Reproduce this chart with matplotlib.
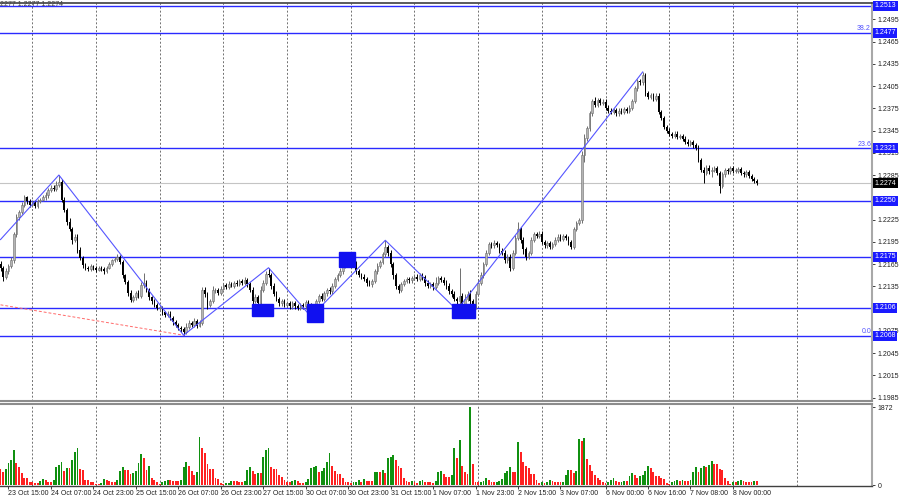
import matplotlib.pyplot as plt
import numpy as np
from matplotlib.patches import Rectangle
from matplotlib.transforms import blended_transform_factory

plt.rcParams["font.family"] = ["Liberation Sans", "DejaVu Sans"]

# H1 candles, 23 Oct 12:00 .. 8 Nov 09:00 (bar index = position on the chart)
first_open = 1.2165
closes = [
    1.2160, 1.2148, 1.2155, 1.2162, 1.2170, 1.2205, 1.2228, 1.2235, 1.2245, 1.2255, 1.2250, 1.2245,
    1.2248, 1.2243, 1.2250, 1.2252, 1.2255, 1.2258, 1.2265, 1.2268, 1.2266, 1.2272, 1.2276, 1.2252,
    1.2238, 1.2222, 1.2212, 1.2198, 1.2202, 1.2184, 1.2173, 1.2164, 1.2160, 1.2158, 1.2162, 1.2160,
    1.2157, 1.2160, 1.2158, 1.2155, 1.2160, 1.2165, 1.2170, 1.2172, 1.2174, 1.2168, 1.2150, 1.2141,
    1.2126, 1.2117, 1.2120, 1.2126, 1.2122, 1.2137, 1.2140, 1.2130, 1.2120, 1.2115, 1.2110, 1.2106,
    1.2106, 1.2100, 1.2096, 1.2098, 1.2092, 1.2087, 1.2083, 1.2079, 1.2077, 1.2074, 1.2080, 1.2085,
    1.2083, 1.2088, 1.2082, 1.2086, 1.2130, 1.2124, 1.2110, 1.2115, 1.2130, 1.2130, 1.2126, 1.2132,
    1.2137, 1.2134, 1.2138, 1.2136, 1.2140, 1.2138, 1.2142, 1.2140, 1.2143, 1.2138, 1.2130, 1.2115,
    1.2120, 1.2112, 1.2130, 1.2140, 1.2152, 1.2150, 1.2135, 1.2125, 1.2118, 1.2112, 1.2115, 1.2110,
    1.2112, 1.2108, 1.2112, 1.2108, 1.2106, 1.2110, 1.2108, 1.2114, 1.2110, 1.2100, 1.2098, 1.2115,
    1.2122, 1.2118, 1.2126, 1.2130, 1.2128, 1.2136, 1.2145, 1.2150, 1.2155, 1.2162, 1.2170, 1.2168,
    1.2174, 1.2166, 1.2155, 1.2150, 1.2148, 1.2145, 1.2140, 1.2138, 1.2142, 1.2155, 1.2162, 1.2168,
    1.2178, 1.2188, 1.2180, 1.2165, 1.2150, 1.2135, 1.2130, 1.2138, 1.2142, 1.2145, 1.2143, 1.2146,
    1.2148, 1.2145, 1.2150, 1.2147, 1.2140, 1.2136, 1.2138, 1.2134, 1.2140, 1.2146, 1.2144, 1.2140,
    1.2135, 1.2128, 1.2125, 1.2118, 1.2115, 1.2122, 1.2110, 1.2118, 1.2125, 1.2115, 1.2108, 1.2125,
    1.2140, 1.2150, 1.2165, 1.2180, 1.2192, 1.2190, 1.2193, 1.2191, 1.2183, 1.2180, 1.2170, 1.2175,
    1.2160, 1.2180, 1.2200, 1.2212, 1.2198, 1.2185, 1.2175, 1.2180, 1.2198, 1.2205, 1.2203, 1.2206,
    1.2195, 1.2190, 1.2193, 1.2188, 1.2192, 1.2198, 1.2202, 1.2199, 1.2203, 1.2200, 1.2195, 1.2188,
    1.2212, 1.2220, 1.2224, 1.2312, 1.2335, 1.2348, 1.2368, 1.2385, 1.2380, 1.2386, 1.2382, 1.2384,
    1.2376, 1.2372, 1.2370, 1.2373, 1.2368, 1.2372, 1.2370, 1.2374, 1.2372, 1.2376, 1.2385, 1.2402,
    1.2412, 1.2410, 1.2420, 1.2395, 1.2390, 1.2393, 1.2388, 1.2392, 1.2370, 1.2362, 1.2350, 1.2345,
    1.2340, 1.2338, 1.2341, 1.2336, 1.2338, 1.2334, 1.2330, 1.2327, 1.2329, 1.2325, 1.2322, 1.2305,
    1.2292, 1.2288, 1.2295, 1.2290, 1.2292, 1.2294, 1.2288, 1.2270, 1.2286, 1.2292, 1.2290, 1.2294,
    1.2291, 1.2291, 1.2293, 1.2288, 1.2286, 1.2289, 1.2284, 1.2280, 1.2277, 1.2274,
]
# wick lengths in pips above / below the body
wick_up = [
    4, 3, 5, 3, 4, 3, 5, 3, 4, 3, 2, 3,
    3, 4, 3, 2, 3, 4, 3, 4, 3, 5, 9, 3,
    4, 3, 5, 3, 4, 3, 4, 3, 2, 3, 3, 2,
    2, 3, 2, 3, 3, 3, 2, 3, 4, 3, 3, 2,
    3, 4, 3, 3, 4, 4, 13, 3, 3, 2, 3, 3,
    3, 3, 2, 3, 4, 3, 3, 2, 3, 3, 5, 4,
    3, 4, 3, 3, 4, 4, 3, 3, 5, 3, 3, 3,
    3, 3, 4, 3, 2, 3, 3, 3, 4, 3, 3, 4,
    4, 3, 5, 4, 4, 8, 3, 4, 3, 3, 3, 3,
    3, 3, 3, 3, 3, 3, 3, 3, 3, 3, 4, 3,
    3, 4, 3, 3, 4, 3, 3, 3, 4, 3, 3, 4,
    3, 4, 3, 3, 3, 3, 3, 3, 3, 3, 4, 3,
    3, 9, 3, 4, 3, 3, 3, 3, 3, 3, 3, 3,
    3, 3, 3, 3, 3, 4, 3, 3, 8, 3, 3, 3,
    3, 4, 3, 4, 3, 38, 4, 6, 3, 5, 3, 3,
    3, 4, 3, 4, 3, 3, 4, 3, 3, 3, 4, 3,
    3, 4, 4, 10, 3, 3, 3, 3, 4, 3, 3, 3,
    3, 3, 3, 3, 3, 3, 3, 3, 3, 3, 3, 3,
    3, 3, 3, 5, 5, 3, 4, 3, 5, 3, 3, 3,
    3, 3, 3, 3, 3, 3, 3, 3, 3, 3, 3, 3,
    3, 3, 4, 3, 3, 3, 3, 3, 3, 3, 3, 3,
    3, 3, 3, 3, 3, 3, 3, 3, 3, 3, 3, 3,
    3, 4, 3, 3, 4, 3, 3, 3, 3, 3, 3, 3,
    3, 3, 3, 3, 3, 3, 3, 3, 3, 2,
]
wick_dn = [
    5, 6, 3, 4, 3, 4, 3, 4, 2, 3, 4, 3,
    3, 3, 2, 3, 2, 3, 4, 3, 3, 2, 3, 4,
    3, 4, 3, 6, 3, 4, 3, 4, 3, 3, 2, 3,
    3, 2, 3, 3, 2, 2, 3, 2, 3, 3, 4, 3,
    4, 3, 3, 4, 3, 3, 4, 3, 3, 4, 3, 3,
    3, 4, 3, 3, 3, 4, 3, 3, 4, 5, 3, 3,
    3, 3, 3, 2, 3, 4, 5, 3, 3, 4, 3, 3,
    2, 3, 3, 2, 3, 3, 2, 3, 3, 4, 3, 5,
    3, 5, 3, 3, 3, 3, 4, 3, 3, 4, 3, 3,
    3, 3, 3, 3, 3, 3, 3, 3, 3, 6, 4, 3,
    3, 3, 3, 4, 3, 3, 3, 3, 3, 3, 3, 3,
    3, 3, 4, 3, 3, 3, 4, 3, 4, 3, 3, 3,
    3, 3, 4, 4, 5, 4, 4, 3, 3, 3, 3, 3,
    3, 3, 3, 3, 4, 3, 3, 4, 3, 3, 3, 3,
    3, 3, 4, 3, 10, 21, 6, 4, 3, 20, 6, 4,
    3, 3, 4, 3, 3, 3, 3, 3, 3, 3, 4, 3,
    5, 3, 3, 3, 4, 6, 5, 3, 3, 3, 3, 3,
    3, 3, 3, 3, 3, 3, 3, 3, 3, 3, 4, 3,
    3, 3, 3, 3, 10, 4, 3, 3, 3, 3, 3, 3,
    3, 3, 3, 3, 3, 3, 3, 3, 3, 3, 3, 3,
    3, 4, 3, 4, 3, 3, 3, 3, 3, 3, 3, 3,
    3, 3, 3, 3, 3, 3, 3, 3, 3, 3, 3, 3,
    3, 14, 3, 3, 8, 3, 3, 9, 3, 3, 3, 3,
    3, 3, 3, 3, 3, 3, 3, 3, 3, 2,
]
volumes = [
    385, 320, 385, 520, 600, 843, 520, 440, 280, 160, 160, 64,
    64, 48, 48, 96, 136, 112, 80, 64, 112, 440, 480, 560,
    337, 417, 417, 600, 803, 900, 385, 361, 120, 112, 64, 64,
    32, 32, 48, 145, 120, 96, 80, 64, 112, 337, 433, 353,
    353, 257, 290, 337, 520, 738, 642, 353, 466, 177, 120, 64,
    32, 64, 96, 112, 112, 96, 96, 96, 120, 433, 546, 458,
    337, 240, 321, 1164, 883, 763, 506, 385, 385, 160, 145, 48,
    32, 40, 48, 96, 96, 96, 80, 64, 96, 361, 440, 337,
    273, 297, 280, 666, 843, 883, 425, 377, 377, 240, 193, 120,
    64, 64, 96, 112, 96, 48, 48, 80, 145, 417, 440, 450,
    305, 337, 417, 546, 763, 466, 337, 257, 257, 160, 80, 64,
    48, 64, 80, 112, 64, 145, 96, 96, 96, 305, 321, 321,
    361, 281, 658, 682, 723, 600, 458, 417, 177, 96, 64, 96,
    64, 48, 96, 112, 80, 64, 64, 48, 96, 305, 337, 257,
    200, 200, 240, 900, 658, 1084, 466, 305, 273, 1872, 506, 64,
    64, 80, 96, 160, 128, 64, 64, 80, 96, 145, 281, 337,
    425, 321, 305, 1028, 787, 562, 466, 417, 257, 257, 112, 40,
    64, 48, 80, 112, 96, 80, 64, 64, 80, 240, 361, 353,
    281, 337, 1108, 1060, 1124, 626, 482, 337, 240, 160, 112, 64,
    40, 64, 112, 160, 96, 64, 80, 96, 96, 209, 281, 240,
    177, 209, 240, 337, 458, 401, 305, 217, 209, 160, 145, 48,
    32, 64, 96, 128, 96, 112, 96, 96, 120, 305, 440, 321,
    417, 458, 440, 482, 578, 506, 506, 385, 361, 160, 96, 32,
    64, 64, 96, 128, 96, 64, 64, 64, 96, 96,
]

date_idx = [3, 19, 35, 51, 67, 83, 99, 115, 131, 147, 163, 179, 195, 211, 228, 244, 260, 276]
date_labels = ["23 Oct 15:00", "24 Oct 07:00", "24 Oct 23:00", "25 Oct 15:00", "26 Oct 07:00",
               "26 Oct 23:00", "27 Oct 15:00", "30 Oct 07:00", "30 Oct 23:00", "31 Oct 15:00",
               "1 Nov 07:00", "1 Nov 23:00", "2 Nov 15:00", "3 Nov 07:00", "6 Nov 00:00",
               "6 Nov 16:00", "7 Nov 08:00", "8 Nov 00:00"]
day_idx = [12, 36, 60, 84, 108, 132, 156, 180, 204, 228, 252, 276, 300]

levels = [1.2513, 1.2477, 1.2321, 1.2250, 1.2175, 1.2106, 1.2068]
fib_text = {1.2477: "38.2", 1.2321: "23.6", 1.2068: "0.0"}
last_price = 1.2274
# 1.2255 and 1.2105 sit under the level labels and are not visible
price_ticks = [1.1985, 1.2015, 1.2045, 1.2075, 1.2135, 1.2165, 1.2195, 1.2225,
               1.2285, 1.2315, 1.2345, 1.2375, 1.2405, 1.2435, 1.2465, 1.2495]
vol_max = 1872

zz_idx = [0, 22, 69, 101, 117, 145, 172, 242]
zz_price = [1.2198, 1.2285, 1.2069, 1.2160, 1.2094, 1.2197, 1.2103, 1.2424]
trend_idx = [0, 69]
trend_price = [1.2110, 1.2069]

box_left = [94.8, 115.5, 127.5, 170.0]
box_right = [102.7, 121.5, 133.5, 178.8]
box_top = [1.2111, 1.2111, 1.2181, 1.2111]
box_bottom = [1.2095, 1.2087, 1.2161, 1.2092]

fig = plt.figure(figsize=(9, 5), dpi=100)
ax = fig.add_axes([0, 1 - 401 / 500, 872 / 900, 398 / 500])
axv = fig.add_axes([0, 1 - 486 / 500, 872 / 900, 82 / 500])

idx = np.arange(len(closes))
c = np.array(closes)
o = np.array([first_open] + closes[:-1])
hi = np.maximum(o, c) + np.array(wick_up) * 0.0001
lo = np.minimum(o, c) - np.array(wick_dn) * 0.0001
up = c >= o
body = np.maximum(np.abs(c - o), 0.00006)
base = np.minimum(o, c)

for x in day_idx:
    ax.axvline(x, color="#707070", ls=(0, (2, 2)), lw=0.7, zorder=0)
    axv.axvline(x, color="#707070", ls=(0, (2, 2)), lw=0.7, zorder=0)

for lv in levels:
    ax.axhline(lv, color="#2a2aff", lw=1.0, zorder=1)
ax.axhline(last_price, color="#c4c4c4", lw=0.8, zorder=1)

ax.plot(trend_idx, trend_price, color="#ff6a6a", lw=0.7, ls=(0, (3, 2)), zorder=2)

ax.vlines(idx[up], lo[up], hi[up], color="#6e6e6e", lw=0.7, zorder=3)
ax.vlines(idx[~up], lo[~up], hi[~up], color="black", lw=0.7, zorder=3)
ax.bar(idx[up], body[up], bottom=base[up], width=0.62, color="#b4b4b4",
       edgecolor="#6e6e6e", lw=0.4, zorder=4)
ax.bar(idx[~up], body[~up], bottom=base[~up], width=0.62, color="black", lw=0, zorder=4)

ax.plot(zz_idx, zz_price, color="#5555ff", lw=0.8, zorder=5)

for l, r, t, b in zip(box_left, box_right, box_top, box_bottom):
    ax.add_patch(Rectangle((l, b), r - l, t - b, facecolor="#1010f0", edgecolor="#1010f0", zorder=6))

ax.set_xlim(-0.19, 328.4)
ax.set_ylim(1.19803, 1.25170)
ax.set_xticks([])
ax.yaxis.tick_right()
ax.set_yticks(price_ticks)
ax.set_yticklabels([f"{p:.4f}" for p in price_ticks])
ax.tick_params(axis="y", length=2, width=0.6, pad=2, labelsize=5, colors="#202020")

tr = blended_transform_factory(fig.transFigure, ax.transData)
for lv in levels:
    ax.text(874.5 / 900, lv, f"{lv:.4f}", transform=tr, fontsize=5, color="white",
            va="center", ha="left", zorder=10, clip_on=False,
            bbox=dict(boxstyle="square,pad=0.2", fc="#1a1aff", ec="none"))
    if lv in fib_text:
        ax.text(871 / 900, lv + 0.0001, fib_text[lv], transform=tr, fontsize=5,
                color="#5050ff", va="bottom", ha="right", zorder=10)
ax.text(874.5 / 900, last_price, f"{last_price:.4f}", transform=tr, fontsize=5, color="white",
        va="center", ha="left", zorder=10, clip_on=False,
        bbox=dict(boxstyle="square,pad=0.2", fc="black", ec="none"))

fig.text(0, 1 - 5 / 500, "2277 1.2277 1.2274", fontsize=5, color="#404040", va="center")

vcol = ["#109010" if i > 0 and volumes[i] > volumes[i - 1] else "#ff2020" for i in range(len(volumes))]
axv.bar(idx, volumes, width=0.7, color=vcol, lw=0, zorder=2)
axv.set_xlim(-0.19, 328.4)
axv.set_ylim(-24, 1944)
axv.yaxis.tick_right()
axv.set_yticks([0, vol_max])
axv.set_yticklabels(["0", str(vol_max)])
axv.tick_params(axis="y", length=2, width=0.6, pad=2, labelsize=5, colors="#202020")
axv.set_xticks(date_idx)
axv.set_xticklabels(date_labels, ha="left")
axv.tick_params(axis="x", length=2, width=0.6, pad=1, labelsize=5, colors="#202020")

for a in (ax, axv):
    a.spines["left"].set_visible(False)
    a.spines["right"].set_color("#a8a8a8")
    a.spines["right"].set_linewidth(1.5)
ax.spines["top"].set_color("#404040")
ax.spines["top"].set_linewidth(1.2)
ax.spines["bottom"].set_color("#8c8c8c")
ax.spines["bottom"].set_linewidth(1.5)
axv.spines["top"].set_color("#8c8c8c")
axv.spines["top"].set_linewidth(1.5)
axv.spines["bottom"].set_color("#404040")
axv.spines["bottom"].set_linewidth(1)

fig.savefig("out.png", dpi=100)
